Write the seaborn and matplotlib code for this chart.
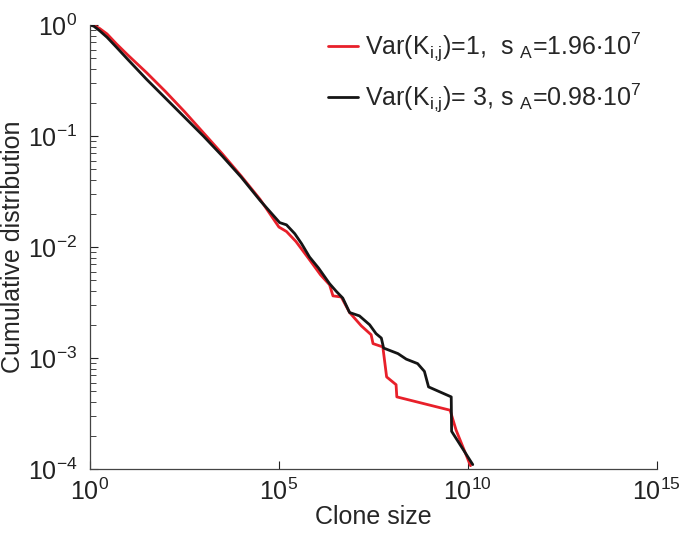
import numpy as np
import pandas as pd
import matplotlib
matplotlib.use("Agg")
import matplotlib.pyplot as plt
import seaborn as sns

# log10 of clone size / cumulative distribution
red_logx = [0, 0.1, 0.25, 0.45, 0.7, 1.0, 1.5, 2.0, 2.5, 3.0, 3.5, 4.0, 4.5,
            5.0, 5.2, 5.45, 5.8, 6.1, 6.34, 6.43, 6.65, 6.87, 7.18, 7.44,
            7.49, 7.75, 7.85, 8.10, 8.12, 9.53, 9.69, 10.07]
red_logy = [0, -0.005, -0.03, -0.08, -0.17, -0.27, -0.43, -0.60, -0.78, -0.97,
            -1.16, -1.36, -1.57, -1.82, -1.86, -1.95, -2.11, -2.25, -2.34,
            -2.44, -2.45, -2.59, -2.71, -2.79, -2.87, -2.90, -3.17, -3.24,
            -3.35, -3.47, -3.65, -3.97]

black_logx = [0, 0.1, 0.25, 0.45, 0.7, 1.0, 1.5, 2.0, 2.5, 3.0, 3.5, 4.0, 4.5,
              4.76, 5.02, 5.2, 5.42, 5.6, 5.81, 6.05, 6.34, 6.52, 6.69, 6.87,
              7.13, 7.40, 7.57, 7.71, 7.77, 8.15, 8.37, 8.67, 8.85, 8.96,
              9.56, 9.57, 10.13]
black_logy = [0, -0.01, -0.05, -0.11, -0.20, -0.31, -0.49, -0.66, -0.83, -1.00,
              -1.18, -1.37, -1.58, -1.68, -1.78, -1.80, -1.88, -1.97, -2.09,
              -2.19, -2.33, -2.40, -2.46, -2.59, -2.62, -2.70, -2.78, -2.82,
              -2.91, -2.96, -3.01, -3.05, -3.12, -3.26, -3.35, -3.66, -3.96]

labels = [r"Var(K$_{i{,}j}$)=1,  s $_A$=1.96$\cdot$10$^7$",
          r"Var(K$_{i{,}j}$)= 3, s $_A$=0.98$\cdot$10$^7$"]
colors = ["#e8202a", "#151515"]

df = pd.concat([
    pd.DataFrame({"size": 10.0 ** np.array(red_logx),
                  "cdf": 10.0 ** np.array(red_logy),
                  "series": labels[0]}),
    pd.DataFrame({"size": 10.0 ** np.array(black_logx),
                  "cdf": 10.0 ** np.array(black_logy),
                  "series": labels[1]}),
])

sns.set_style("ticks")
plt.rcParams["font.family"] = ["Liberation Sans", "DejaVu Sans"]
plt.rcParams["mathtext.default"] = "regular"
plt.rcParams["xtick.direction"] = "in"
plt.rcParams["ytick.direction"] = "in"

fig = plt.figure(figsize=(6.82, 5.33), dpi=100)
ax = fig.add_axes([0.132, 0.120, 0.831, 0.833])

sns.lineplot(data=df, x="size", y="cdf", hue="series", palette=colors,
             sort=False, estimator=None, units="series", lw=2.0, ax=ax)

ax.set_xscale("log")
ax.set_yscale("log")
ax.set_xlim(1, 1e15)
ax.set_ylim(1e-4, 1)
ax.set_xticks([1, 1e5, 1e10, 1e15])
ax.set_yticks([1e-4, 1e-3, 1e-2, 1e-1, 1])
ax.xaxis.set_minor_locator(matplotlib.ticker.NullLocator())
ax.tick_params(axis="both", which="major", labelsize=18, length=6,
               width=0.8, colors="#222222")
ax.tick_params(axis="x", which="major", pad=7)
ax.tick_params(axis="y", which="major", pad=9)
ax.tick_params(axis="y", which="minor", length=4, width=0.6)
sns.despine(ax=ax)
for s in ["left", "bottom"]:
    ax.spines[s].set_color("#444444")
    ax.spines[s].set_linewidth(0.9)

ax.set_xlabel("Clone size", fontsize=18, labelpad=0)
ax.set_ylabel("Cumulative distribution", fontsize=18, labelpad=2)

leg = ax.legend(loc="upper right", bbox_to_anchor=(1.0, 1.02), frameon=False,
                fontsize=18, handlelength=1.2, handletextpad=0.3,
                labelspacing=0.7, borderaxespad=0.2)

fig.savefig("out.png", dpi=100)
